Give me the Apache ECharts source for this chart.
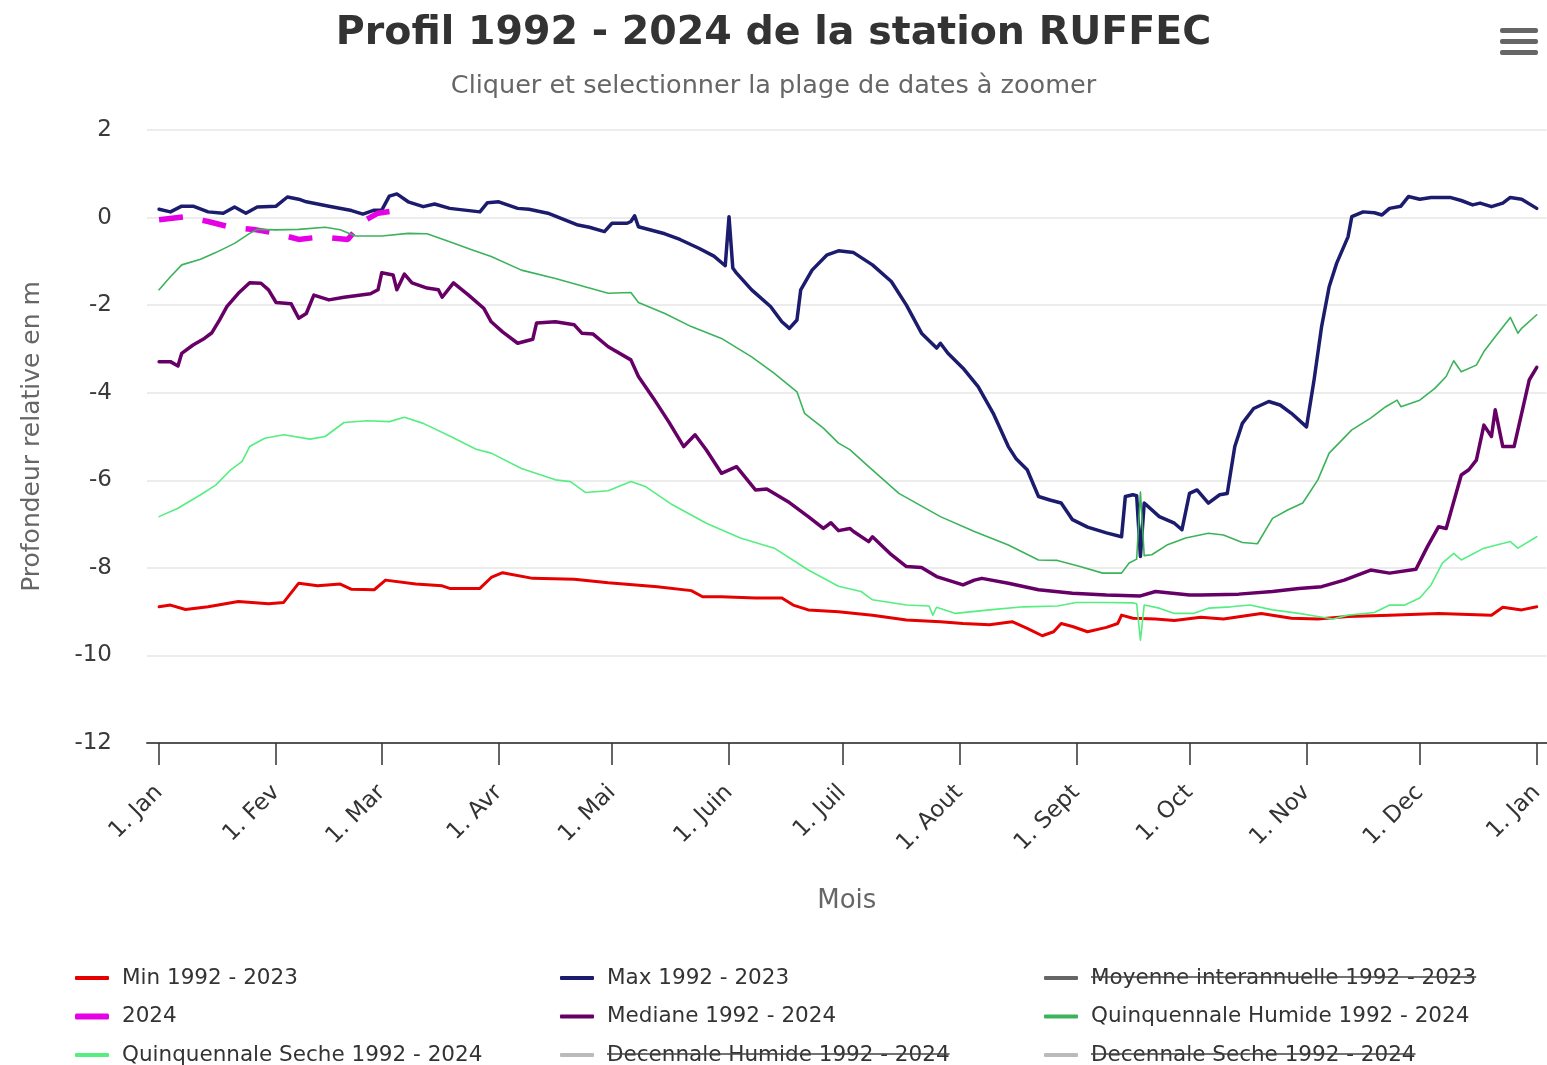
<!DOCTYPE html>
<html lang="fr">
<head>
  <meta charset="UTF-8">
  <title>Profil RUFFEC</title>
  <script src="https://cdn.jsdelivr.net/npm/echarts@6/dist/echarts.min.js"></script>
  <style>
    html, body {
      margin: 0;
      padding: 0;
      background: #fff;
    }

    #main {
      width: 1547px;
      height: 1065px;
    }
  </style>
</head>
<body>
<div id="main"></div>
<script>
  // x = jour de l'annee (0 = 1er janvier), y = profondeur relative en m
  const monthStarts = [0, 31, 59, 90, 120, 151, 181, 212, 243, 273, 304, 334, 365]
  const monthLabels = ['1. Jan', '1. Fev', '1. Mar', '1. Avr', '1. Mai', '1. Juin', '1. Juil',
    '1. Aout', '1. Sept', '1. Oct', '1. Nov', '1. Dec', '1. Jan']
  const yTicks = [2, 0, -2, -4, -6, -8, -10, -12]

  const minData = [
    [0, -8.89], [3, -8.85], [7, -8.95], [13, -8.89], [21, -8.77], [29, -8.82], [33, -8.79], [37, -8.35],
    [42, -8.41], [48, -8.37], [51, -8.49], [57, -8.50], [60, -8.28], [68, -8.37], [75, -8.41], [77, -8.47],
    [85, -8.47], [88, -8.22], [91, -8.11], [99, -8.24], [110, -8.26], [119, -8.34], [132, -8.43], [141, -8.52],
    [144, -8.66], [149, -8.66], [158, -8.69], [165, -8.69], [168, -8.85], [172, -8.96], [180, -9.00], [189, -9.08],
    [198, -9.19], [207, -9.23], [213, -9.27], [220, -9.30], [226, -9.23], [230, -9.38], [234, -9.55], [237, -9.46],
    [239, -9.27], [242, -9.34], [246, -9.46], [251, -9.36], [254, -9.27], [255, -9.08], [258, -9.15], [264, -9.17],
    [269, -9.20], [276, -9.13], [282, -9.17], [292, -9.04], [300, -9.15], [307, -9.17], [315, -9.11], [326, -9.08],
    [339, -9.04], [353, -9.08], [356, -8.90], [361, -8.96], [365, -8.89]
  ]

  const maxData = [
    [0, 0.19], [3, 0.13], [6, 0.26], [9, 0.26], [13, 0.13], [17, 0.10], [20, 0.24], [23, 0.10], [26, 0.24],
    [31, 0.26], [34, 0.47], [37, 0.42], [39, 0.36], [45, 0.26], [51, 0.16], [54, 0.08], [57, 0.17], [59, 0.17],
    [61, 0.49], [63, 0.54], [66, 0.36], [70, 0.25], [73, 0.31], [77, 0.21], [85, 0.13], [87, 0.34], [90, 0.36],
    [95, 0.21], [98, 0.19], [103, 0.10], [111, -0.17], [114, -0.22], [118, -0.32], [120, -0.13], [124, -0.13],
    [125, -0.09], [126, 0.04], [127, -0.21], [134, -0.37], [138, -0.50], [143, -0.70], [147, -0.88], [150, -1.10],
    [151, 0.02], [152, -1.15], [153, -1.27], [157, -1.65], [162, -2.03], [165, -2.38], [167, -2.53], [169, -2.34],
    [170, -1.65], [173, -1.20], [177, -0.85], [180, -0.76], [184, -0.80], [189, -1.08], [194, -1.46], [198, -2.00],
    [202, -2.64], [206, -2.98], [207, -2.87], [209, -3.10], [213, -3.44], [217, -3.86], [221, -4.47], [225, -5.23],
    [227, -5.50], [230, -5.76], [233, -6.37], [236, -6.45], [239, -6.52], [242, -6.90], [246, -7.07], [251, -7.20],
    [255, -7.29], [256, -6.37], [258, -6.33], [259, -6.35], [260, -7.74], [261, -6.52], [265, -6.83], [269, -6.98],
    [271, -7.13], [273, -6.30], [275, -6.22], [278, -6.52], [281, -6.33], [283, -6.30], [285, -5.23], [287, -4.70],
    [290, -4.36], [294, -4.20], [297, -4.28], [300, -4.47], [304, -4.78], [306, -3.71], [308, -2.49], [310, -1.58],
    [312, -1.04], [315, -0.44], [316, 0.02], [319, 0.13], [322, 0.11], [324, 0.06], [326, 0.21], [329, 0.26],
    [331, 0.48], [334, 0.42], [337, 0.46], [342, 0.46], [345, 0.39], [348, 0.29], [350, 0.33], [353, 0.25],
    [356, 0.33], [358, 0.46], [361, 0.42], [365, 0.21]
  ]

  const data2024 = [
    [0, -0.05], [7, 0.02], [13, -0.09], [19, -0.22], [25, -0.27], [31, -0.36], [37, -0.50], [43, -0.44],
    [50, -0.50], [54, -0.09], [58, 0.10], [65, 0.19]
  ]

  const medianeData = [
    [0, -3.29], [3, -3.29], [5, -3.39], [6, -3.10], [9, -2.91], [12, -2.76], [14, -2.63], [16, -2.34], [18, -2.03],
    [21, -1.73], [24, -1.49], [27, -1.50], [29, -1.65], [31, -1.94], [35, -1.97], [37, -2.30], [39, -2.19],
    [41, -1.77], [45, -1.88], [49, -1.82], [56, -1.74], [58, -1.65], [59, -1.26], [62, -1.31], [63, -1.65],
    [65, -1.29], [67, -1.49], [71, -1.61], [74, -1.65], [75, -1.82], [78, -1.49], [82, -1.77], [86, -2.07],
    [88, -2.38], [91, -2.61], [95, -2.87], [99, -2.78], [100, -2.41], [105, -2.38], [110, -2.45], [112, -2.64],
    [115, -2.66], [119, -2.95], [125, -3.25], [127, -3.63], [131, -4.13], [135, -4.66], [139, -5.23], [142, -4.96],
    [145, -5.31], [149, -5.84], [153, -5.69], [158, -6.22], [161, -6.20], [167, -6.51], [172, -6.83], [176, -7.10],
    [178, -6.97], [180, -7.15], [183, -7.10], [184, -7.17], [188, -7.40], [189, -7.29], [194, -7.70], [198, -7.97],
    [202, -7.99], [206, -8.20], [213, -8.39], [216, -8.28], [218, -8.24], [225, -8.35], [233, -8.50], [242, -8.58],
    [251, -8.62], [260, -8.64], [264, -8.54], [273, -8.62], [276, -8.62], [286, -8.60], [295, -8.54], [302, -8.47],
    [308, -8.43], [314, -8.28], [321, -8.05], [326, -8.12], [333, -8.03], [336, -7.52], [339, -7.06], [341, -7.10],
    [345, -5.88], [347, -5.76], [349, -5.54], [351, -4.74], [353, -5.00], [354, -4.39], [356, -5.23], [359, -5.23],
    [361, -4.47], [363, -3.71], [365, -3.42]
  ]

  const quinqHumideData = [
    [0, -1.65], [3, -1.35], [6, -1.08], [11, -0.95], [15, -0.80], [20, -0.59], [24, -0.36], [26, -0.27],
    [31, -0.28], [37, -0.27], [44, -0.22], [48, -0.28], [52, -0.42], [59, -0.42], [66, -0.36], [71, -0.37],
    [77, -0.55], [83, -0.74], [88, -0.89], [96, -1.20], [105, -1.39], [114, -1.61], [119, -1.73], [125, -1.71],
    [127, -1.94], [134, -2.19], [141, -2.49], [149, -2.76], [157, -3.18], [163, -3.56], [169, -3.98], [171, -4.47],
    [176, -4.81], [180, -5.15], [183, -5.30], [188, -5.69], [196, -6.30], [207, -6.83], [216, -7.17], [225, -7.48],
    [233, -7.82], [238, -7.83], [244, -7.97], [250, -8.12], [255, -8.12], [257, -7.89], [259, -7.80], [260, -6.27],
    [261, -7.72], [263, -7.70], [267, -7.48], [272, -7.32], [278, -7.21], [282, -7.25], [287, -7.42], [291, -7.45],
    [295, -6.87], [299, -6.68], [303, -6.52], [307, -5.99], [310, -5.38], [316, -4.85], [321, -4.58], [325, -4.32],
    [328, -4.17], [329, -4.32], [334, -4.17], [338, -3.90], [341, -3.63], [343, -3.27], [345, -3.52], [349, -3.37],
    [351, -3.06], [354, -2.72], [358, -2.28], [360, -2.64], [361, -2.53], [365, -2.22]
  ]

  const quinqSecheData = [
    [0, -6.83], [5, -6.64], [11, -6.33], [15, -6.11], [19, -5.76], [22, -5.57], [24, -5.23], [28, -5.04],
    [33, -4.96], [40, -5.06], [44, -5.00], [49, -4.68], [55, -4.64], [61, -4.66], [65, -4.56], [70, -4.70],
    [77, -4.99], [84, -5.29], [88, -5.38], [96, -5.73], [105, -5.99], [109, -6.03], [113, -6.28], [119, -6.24],
    [125, -6.03], [129, -6.15], [136, -6.56], [145, -6.98], [154, -7.32], [163, -7.55], [172, -8.05], [180, -8.42],
    [186, -8.54], [189, -8.73], [198, -8.85], [204, -8.87], [205, -9.08], [206, -8.90], [211, -9.04], [220, -8.96],
    [229, -8.89], [238, -8.87], [243, -8.79], [251, -8.79], [258, -8.80], [259, -8.82], [260, -9.65], [261, -8.85],
    [265, -8.92], [269, -9.04], [274, -9.04], [278, -8.92], [284, -8.89], [289, -8.85], [295, -8.96], [302, -9.04],
    [307, -9.11], [311, -9.17], [315, -9.08], [322, -9.02], [326, -8.85], [330, -8.85], [334, -8.69], [337, -8.39],
    [340, -7.89], [343, -7.67], [345, -7.82], [351, -7.55], [358, -7.40], [360, -7.55], [365, -7.29]
  ]

  // series masquees dans la legende (pas de donnees affichees)
  const hiddenNames = ['Moyenne interannuelle 1992 - 2023', 'Decennale Humide 1992 - 2024', 'Decennale Seche 1992 - 2024']

  // legende sur 3 colonnes x 3 lignes
  const legendGrid = [
    ['Min 1992 - 2023', 'Max 1992 - 2023', hiddenNames[0]],
    ['2024', 'Mediane 1992 - 2024', 'Quinquennale Humide 1992 - 2024'],
    ['Quinquennale Seche 1992 - 2024', hiddenNames[1], hiddenNames[2]]
  ]

  const legendFont = 21.5
  const legendLeft = [75, 560, 1044]
  const rowY = [978, 1016.5, 1055]

  function line(name, data, color, width, extra) {
    return Object.assign({
      name: name,
      type: 'line',
      data: data,
      showSymbol: false,
      symbol: 'none',
      smooth: false,
      itemStyle: {color: color},
      lineStyle: {color: color, width: width, cap: 'round', join: 'round'}
    }, extra || {})
  }

  // barre sur le texte des series masquees
  const ctx = document.createElement('canvas').getContext('2d')
  ctx.font = legendFont + 'px "DejaVu Sans"'

  function strike(col, row, text) {
    let x = legendLeft[col] + 34 + 5 + 8
    return {
      type: 'line',
      z: 100,
      shape: {x1: x, y1: rowY[row] - 1, x2: x + ctx.measureText(text).width, y2: rowY[row] - 1},
      style: {stroke: '#444', lineWidth: 1.5}
    }
  }

  let legends = []
  legendGrid.forEach(function (row, r) {
    row.forEach(function (name, c) {
      legends.push({
        left: legendLeft[c],
        top: rowY[r] - 12,
        padding: 0,
        itemWidth: 34,
        itemHeight: name === '2024' ? 6 : 4,
        icon: 'roundRect',
        selectedMode: false,
        textStyle: {
          fontFamily: 'DejaVu Sans',
          fontSize: legendFont,
          color: '#333',
          lineHeight: 24,
          padding: [0, 0, 0, 8]
        },
        data: [name]
      })
    })
  })

  var myChart = echarts.init(document.getElementById('main'))

  var option = {
    animation: false,
    backgroundColor: '#fff',
    textStyle: {fontFamily: 'DejaVu Sans'},
    title: [
      {
        text: 'Profil 1992 - 2024 de la station RUFFEC',
        left: 'center',
        top: 9,
        padding: [5, 0, 5, 9],
        textStyle: {fontFamily: 'DejaVu Sans', fontSize: 39.5, fontWeight: 'bold', color: '#333'}
      },
      {
        text: 'Cliquer et selectionner la plage de dates à zoomer',
        left: 'center',
        top: 68,
        padding: [5, 0, 5, 9],
        textStyle: {fontFamily: 'DejaVu Sans', fontSize: 25.5, fontWeight: 'normal', color: '#666'}
      }
    ],
    legend: legends,
    grid: {left: 147, right: 0, top: 130, bottom: 322},
    xAxis: {
      type: 'value',
      min: -3.2,
      max: 367.6,
      name: 'Mois',
      nameLocation: 'middle',
      nameGap: 145,
      nameTextStyle: {fontFamily: 'DejaVu Sans', fontSize: 26, color: '#666'},
      axisLine: {show: true, onZero: false, lineStyle: {color: '#555', width: 2}},
      axisTick: {show: true, length: 22, customValues: monthStarts, lineStyle: {color: '#333', width: 1.5}},
      splitLine: {show: false},
      axisLabel: {
        customValues: monthStarts,
        rotate: 45,
        margin: 46,
        fontFamily: 'DejaVu Sans',
        fontSize: 23,
        color: '#333',
        formatter: function (v) {
          let i = monthStarts.indexOf(Math.round(v))
          return i < 0 ? '' : monthLabels[i]
        }
      }
    },
    yAxis: {
      type: 'value',
      min: -12,
      max: 2,
      interval: 2,
      name: 'Profondeur relative en m',
      nameLocation: 'middle',
      nameGap: 102,
      nameRotate: 90,
      nameTextStyle: {fontFamily: 'DejaVu Sans', fontSize: 25, color: '#666'},
      axisLine: {show: false},
      axisTick: {show: false},
      axisLabel: {
        margin: 35,
        fontFamily: 'DejaVu Sans',
        fontSize: 23,
        color: '#3a3a3a',
        formatter: function (v) {
          return yTicks.indexOf(v) < 0 ? '' : String(v)
        }
      },
      splitLine: {lineStyle: {color: '#e6e6e6', width: 1.5}}
    },
    graphic: [
      {type: 'rect', shape: {x: 1500, y: 28, width: 38, height: 5, r: 2}, style: {fill: '#666'}},
      {type: 'rect', shape: {x: 1500, y: 39, width: 38, height: 5, r: 2}, style: {fill: '#666'}},
      {type: 'rect', shape: {x: 1500, y: 50, width: 38, height: 5, r: 2}, style: {fill: '#666'}},
      strike(2, 0, hiddenNames[0]),
      strike(1, 2, hiddenNames[1]),
      strike(2, 2, hiddenNames[2])
    ],
    series: [
      line('Min 1992 - 2023', minData, '#e60000', 3),
      line('Max 1992 - 2023', maxData, '#1c1c6e', 3.5),
      line(hiddenNames[0], [], '#666666', 3),
      line('2024', data2024, '#e600e6', 5.5, {lineStyle: {color: '#e600e6', width: 5.5, type: [24, 20]}}),
      line('Mediane 1992 - 2024', medianeData, '#660066', 3.5),
      line('Quinquennale Humide 1992 - 2024', quinqHumideData, '#3cb35a', 1.6),
      line('Quinquennale Seche 1992 - 2024', quinqSecheData, '#55ee80', 1.6),
      line(hiddenNames[1], [], '#bbbbbb', 3),
      line(hiddenNames[2], [], '#bbbbbb', 3)
    ]
  }

  myChart.setOption(option)
</script>
</body>
</html>
